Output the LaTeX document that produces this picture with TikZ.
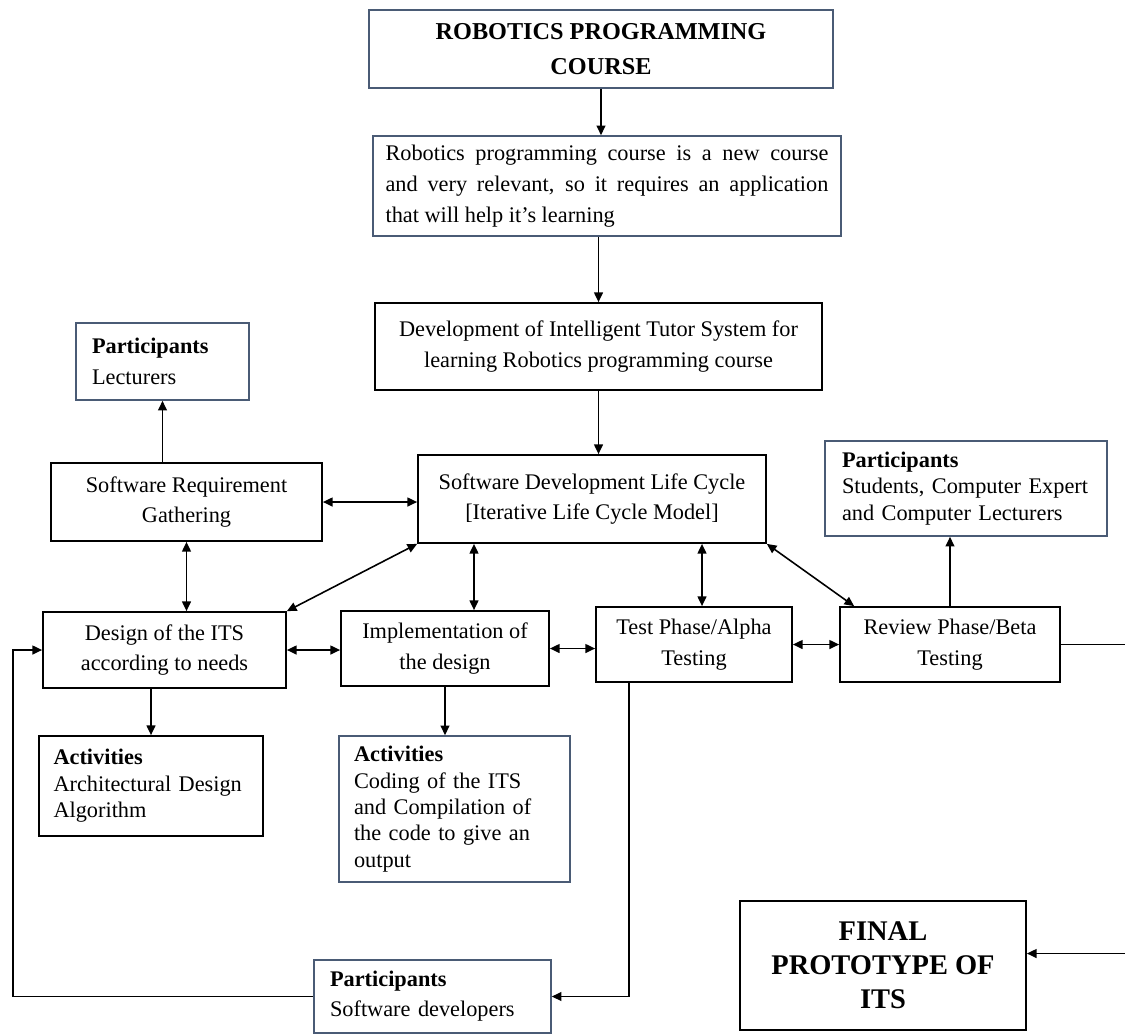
\documentclass[tikz,border=0pt]{standalone}
\usepackage{fontspec}
\setmainfont{Liberation Serif}
\usetikzlibrary{arrows.meta,calc}
\definecolor{boxblue}{HTML}{4A5B75}

\begin{document}
\begin{tikzpicture}[x=0.02cm, y=-0.02cm,
    >={Triangle[length=5.5pt,width=5pt]},
    every node/.style={font=\fontsize{12.7}{17.5}\selectfont},
    blackbox/.style={draw=black, line width=1pt, inner sep=0pt, align=center},
    bluebox/.style={draw=boxblue, line width=0.9pt, inner sep=0pt},
    link/.style={line width=0.9pt}]
    \clip (0,0) rectangle (1125,1035);
    \fill[white] (0,0) rectangle (1125,1035);

    % Top of the chart
    \node[bluebox, align=center, minimum width=9.28cm, minimum height=1.56cm,
        font=\fontsize{13.8}{19.8}\selectfont\bfseries] (course) at (601,49) {ROBOTICS PROGRAMMING\\COURSE};
    \node[bluebox, align=justify, text width=8.86cm, minimum width=9.36cm, minimum height=2cm] (intro) at (607,186)
        {Robotics programming course is a new course\linebreak and very relevant, so it requires an application\linebreak that will help it’s learning};
    \node[blackbox, minimum width=8.94cm, minimum height=1.74cm] (dev) at (598.5,346.5)
        {Development of Intelligent Tutor System for\\learning Robotics programming course};
    \node[blackbox, minimum width=6.96cm, minimum height=1.76cm] (sdlc) at (592,499)
        {Software Development Life Cycle\\{[Iterative Life Cycle Model]}};

    % Requirement gathering
    \node[bluebox, align=left, text width=2.82cm, minimum width=3.46cm, minimum height=1.54cm,
        font=\fontsize{12.7}{18}\selectfont] (lect) at (162.5,361.5) {\textbf{Participants}\\Lecturers};
    \node[blackbox, minimum width=5.42cm, minimum height=1.56cm] (srg) at (186.5,502) {Software Requirement\\Gathering};
    \node[bluebox, align=left, text width=4.96cm, minimum width=5.64cm, minimum height=1.9cm,
        font=\fontsize{12.7}{15}\selectfont] (stud) at (966,488.5)
        {\textbf{Participants}\\Students, Computer Expert\\and Computer Lecturers};

    % Phases
    \node[blackbox, minimum width=4.86cm, minimum height=1.52cm] (design) at (164.5,650) {Design of the ITS\\according to needs};
    \node[blackbox, minimum width=4.16cm, minimum height=1.5cm] (impl) at (445,648.5) {Implementation of\\the design};
    \node[blackbox, minimum width=3.92cm, minimum height=1.5cm] (test) at (694,644.5) {Test Phase/Alpha\\Testing};
    \node[blackbox, minimum width=4.4cm, minimum height=1.5cm] (review) at (950,644.5) {Review Phase/Beta\\Testing};

    % Activities and participants
    \node[blackbox, align=left, text width=3.9cm, minimum width=4.48cm, minimum height=2cm,
        font=\fontsize{12.7}{15}\selectfont] (act1) at (151,786) {\textbf{Activities}\\Architectural Design\\Algorithm};
    \node[bluebox, align=left, text width=4.02cm, minimum width=4.62cm, minimum height=2.92cm,
        font=\fontsize{12.7}{15}\selectfont] (act2) at (454.5,809)
        {\textbf{Activities}\\Coding of the ITS\\and Compilation of\\the code to give an\\output};
    \node[bluebox, align=left, text width=4.1cm, minimum width=4.74cm, minimum height=1.46cm,
        font=\fontsize{12.7}{17}\selectfont] (swdev) at (432.5,996.5) {\textbf{Participants}\\Software developers};
    \node[blackbox, minimum width=5.72cm, minimum height=2.58cm,
        font=\fontsize{16.2}{19.3}\selectfont\bfseries] (final) at (883,965.5) {FINAL\\PROTOTYPE OF\\ITS};

    \coordinate (loop) at (13,820);
    \coordinate (edge) at (1135,800);

    % Connectors
    \draw[link,->] (course.south) -- (course.south |- intro.north);
    \draw[link,->] (dev.north |- intro.south) -- (dev.north);
    \draw[link,->] (dev.south) -- (dev.south |- sdlc.north);
    \draw[link,<->] (srg.east) -- (srg.east -| sdlc.west);
    \draw[link,->] (lect.south |- srg.north) -- (lect.south);
    \draw[link,<->] (srg.south) -- (srg.south |- design.north);
    \draw[link,<->] (sdlc.south west) -- (design.north east);
    \draw[link,<->] ([xshift=0.58cm]impl.north) -- ([xshift=0.58cm]impl.north |- sdlc.south);
    \draw[link,<->] ([xshift=0.16cm]test.north) -- ([xshift=0.16cm]test.north |- sdlc.south);
    \draw[link,<->] (sdlc.south east) -- ([xshift=0.3cm]review.north west);
    \draw[link,->] (review.north) -- (review.north |- stud.south);
    \draw[link,<->] (design.east) -- (design.east -| impl.west);
    \draw[link,<->] (impl.east) -- (impl.east -| test.west);
    \draw[link,<->] (test.east) -- (test.east -| review.west);
    \draw[link,->] (design.south -| act1.north) -- (act1.north);
    \draw[link,->] (impl.south) -- (impl.south |- act2.north);
    \draw[link,->] ([xshift=0.68cm]test.south west) |- (swdev.east);
    \draw[link,->] (swdev.west) -| (loop) |- (design.west);
    \draw[link,->] (review.east) -| (edge) |- ([yshift=0.24cm]final.east);
\end{tikzpicture}
\end{document}
